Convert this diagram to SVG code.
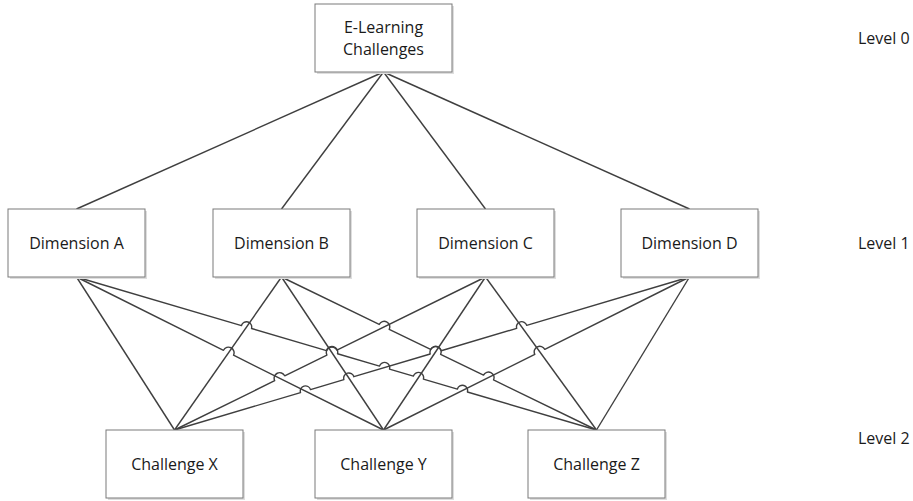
<svg xmlns="http://www.w3.org/2000/svg" width="913" height="501" viewBox="0 0 913 501">
  <defs>
    <style>
      .shadow { fill: #dedede; stroke: none; }
      .box { fill: #ffffff; stroke: #7a7a7a; stroke-width: 1; }
      .lbl { font-family: "Open Sans", "Liberation Sans", sans-serif; font-size: 16px; fill: #1a1a1a; text-anchor: middle; }
      .lvl { font-family: "Open Sans", "Liberation Sans", sans-serif; font-size: 16px; fill: #1a1a1a; }
      .conn { fill: none; stroke: #3f3f3f; stroke-width: 1.4; stroke-linejoin: round; }
    </style>
  </defs>
  <rect width="913" height="501" fill="#ffffff"/>

  <g id="connectors">
    <!-- Level 0 to Level 1 -->
    <line class="conn" x1="383.5" y1="72" x2="76.5" y2="209"/>
    <line class="conn" x1="383.5" y1="72" x2="281.5" y2="209"/>
    <line class="conn" x1="383.5" y1="72" x2="485.5" y2="209"/>
    <line class="conn" x1="383.5" y1="72" x2="689.5" y2="209"/>
    <!-- Level 1 to Level 2 -->
    <path class="conn" d="M76.5,277 L174.5,430"/>
    <path class="conn" d="M76.5,277 L223.5,350.26 A5,5 0 0 1 233.5,355.24 L383.5,430"/>
    <path class="conn" d="M76.5,277 L241.5,325.55 A5,5 0 0 1 251.5,328.49 L326.5,350.56 A5.5,5.5 0 0 1 337.5,353.79 L379.5,366.15 A5,5 0 0 1 389.5,369.09 L413.4,376.13 A5,5 0 0 1 423.4,379.07 L457.4,389.07 A5,5 0 0 1 467.4,392.02 L596.5,430"/>
    <path class="conn" d="M281.5,277 L174.5,430"/>
    <path class="conn" d="M281.5,277 L383.5,430"/>
    <path class="conn" d="M281.5,277 L379.2,324.45 A5,5 0 0 1 389.2,329.31 L430.6,349.42 A5,5 0 0 1 440.6,354.28 L483.5,375.11 A5,5 0 0 1 493.5,379.97 L596.5,430"/>
    <path class="conn" d="M174.5,430 L274.7,380.71 A5,5 0 0 1 284.7,375.79 L326.9,355.03 A5,5 0 0 1 336.9,350.11 L485.5,277"/>
    <path class="conn" d="M485.5,277 L383.5,430"/>
    <path class="conn" d="M485.5,277 L596.5,430"/>
    <path class="conn" d="M174.5,430 L300.5,392.57 A5,5 0 0 1 310.5,389.60 L343.9,379.67 A5,5 0 0 1 353.9,376.70 L430.2,354.03 A5.5,5.5 0 0 1 441.2,350.77 L516.7,328.34 A5,5 0 0 1 526.7,325.37 L689.5,277"/>
    <path class="conn" d="M383.5,430 L534.8,354.35 A5,5 0 0 1 544.8,349.35 L689.5,277"/>
    <path class="conn" d="M689.5,277 L596.5,430"/>
  </g>

  <g id="node-elearning">
    <rect class="shadow" x="317" y="6" width="137" height="68"/>
    <rect class="box" x="315" y="4" width="137" height="68"/>
    <text class="lbl" x="383.5" y="33">E-Learning</text>
    <text class="lbl" x="383.5" y="55">Challenges</text>
  </g>

  <g id="node-dimA">
    <rect class="shadow" x="10" y="211" width="137" height="68"/>
    <rect class="box" x="8" y="209" width="137" height="68"/>
    <text class="lbl" x="76.5" y="249">Dimension A</text>
  </g>
  <g id="node-dimB">
    <rect class="shadow" x="215" y="211" width="137" height="68"/>
    <rect class="box" x="213" y="209" width="137" height="68"/>
    <text class="lbl" x="281.5" y="249">Dimension B</text>
  </g>
  <g id="node-dimC">
    <rect class="shadow" x="419" y="211" width="137" height="68"/>
    <rect class="box" x="417" y="209" width="137" height="68"/>
    <text class="lbl" x="485.5" y="249">Dimension C</text>
  </g>
  <g id="node-dimD">
    <rect class="shadow" x="623" y="211" width="137" height="68"/>
    <rect class="box" x="621" y="209" width="137" height="68"/>
    <text class="lbl" x="689.5" y="249">Dimension D</text>
  </g>

  <g id="node-chX">
    <rect class="shadow" x="108" y="432" width="137" height="68"/>
    <rect class="box" x="106" y="430" width="137" height="68"/>
    <text class="lbl" x="174.5" y="470">Challenge X</text>
  </g>
  <g id="node-chY">
    <rect class="shadow" x="317" y="432" width="137" height="68"/>
    <rect class="box" x="315" y="430" width="137" height="68"/>
    <text class="lbl" x="383.5" y="470">Challenge Y</text>
  </g>
  <g id="node-chZ">
    <rect class="shadow" x="530" y="432" width="137" height="68"/>
    <rect class="box" x="528" y="430" width="137" height="68"/>
    <text class="lbl" x="596.5" y="470">Challenge Z</text>
  </g>

  <g id="levels">
    <text class="lvl" x="858" y="44">Level 0</text>
    <text class="lvl" x="858" y="249">Level 1</text>
    <text class="lvl" x="858" y="444">Level 2</text>
  </g>
</svg>
